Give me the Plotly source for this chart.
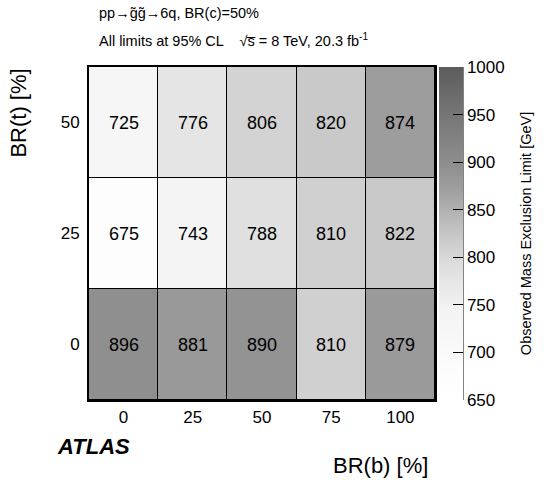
import plotly.graph_objects as go

br_b = [0, 25, 50, 75, 100]
br_t = [0, 25, 50]
limits = [
    [896, 881, 890, 810, 879],   # BR(t)=0
    [675, 743, 788, 810, 822],   # BR(t)=25
    [725, 776, 806, 820, 874],   # BR(t)=50
]
cbar_ticks = [650, 700, 750, 800, 850, 900, 950, 1000]

zmin, zmax = 650, 1000
gray_points = [(650, 255), (675, 253), (743, 244), (788, 224), (810, 208),
               (822, 200), (874, 157), (896, 143), (950, 118), (1000, 92)]
colorscale = [[(v - zmin) / (zmax - zmin), f"rgb({g},{g},{g})"] for v, g in gray_points]

font = "Liberation Sans, Arial, Helvetica, sans-serif"

fig = go.Figure(go.Heatmap(
    x=br_b, y=br_t, z=limits,
    zmin=zmin, zmax=zmax, colorscale=colorscale,
    xgap=1, ygap=1,
    texttemplate="%{z}", textfont=dict(size=18, color="black", family=font),
    hoverinfo="skip",
    colorbar=dict(
        x=1.0116, xanchor="left", xref="paper", xpad=0, ypad=0,
        y=0.5, yanchor="middle", len=1.0, lenmode="fraction",
        thickness=24, thicknessmode="pixels",
        outlinewidth=0, ticks="inside", ticklen=10, tickcolor="black", tickwidth=1,
        tickvals=cbar_ticks, ticktext=[str(t) for t in cbar_ticks],
        tickfont=dict(size=17, color="black", family=font),
    ),
))

fig.update_layout(
    width=553, height=480,
    margin=dict(l=89, r=118, t=67, b=80),
    paper_bgcolor="white", plot_bgcolor="black",
    font=dict(family=font, color="black"),
    showlegend=False,
)
fig.update_xaxes(
    tickvals=br_b, ticktext=[str(v) for v in br_b], range=[-12.5, 112.5],
    showgrid=False, zeroline=False, showline=True, linecolor="black", linewidth=2,
    mirror=True, ticks="", tickfont=dict(size=17), ticklabelstandoff=1,
)
fig.update_yaxes(
    tickvals=br_t, ticktext=[str(v) for v in br_t], range=[-12.5, 62.5],
    showgrid=False, zeroline=False, showline=True, linecolor="black", linewidth=2,
    mirror=True, ticks="", tickfont=dict(size=17), ticklabelstandoff=4,
)

# colorbar axis line on the right edge of the colour bar
fig.add_shape(type="line", xref="paper", yref="paper",
              x0=1.0809, x1=1.0809, y0=0, y1=1, line=dict(color="black", width=1))

fig.add_annotation(text="Observed Mass Exclusion Limit [GeV]", xref="paper", yref="paper",
                   x=1.262, y=0.5, xanchor="center", yanchor="middle",
                   textangle=-90, showarrow=False, font=dict(size=14.5))
fig.add_annotation(text="pp→g̃g̃→6q, BR(c)=50%", xref="paper", yref="paper",
                   x=0.023, y=1.162, xanchor="left", yanchor="middle",
                   showarrow=False, font=dict(size=14.5))
fig.add_annotation(text="All limits at 95% CL    √s̅ = 8 TeV, 20.3 fb<sup>-1</sup>",
                   xref="paper", yref="paper",
                   x=0.023, y=1.081, xanchor="left", yanchor="middle",
                   showarrow=False, font=dict(size=14.5))
fig.add_annotation(text="<b><i>ATLAS</i></b>", xref="paper", yref="paper",
                   x=-0.098, y=-0.141, xanchor="left", yanchor="middle",
                   showarrow=False, font=dict(size=22))
fig.add_annotation(text="BR(b) [%]", xref="paper", yref="paper",
                   x=0.986, y=-0.198, xanchor="right", yanchor="middle",
                   showarrow=False, font=dict(size=22))
fig.add_annotation(text="BR(t) [%]", xref="paper", yref="paper",
                   x=-0.205, y=1.0, xanchor="center", yanchor="top",
                   textangle=-90, showarrow=False, font=dict(size=22))

fig.write_html("out.html", config={"displayModeBar": False},
               post_script="document.body.style.margin='0';")
